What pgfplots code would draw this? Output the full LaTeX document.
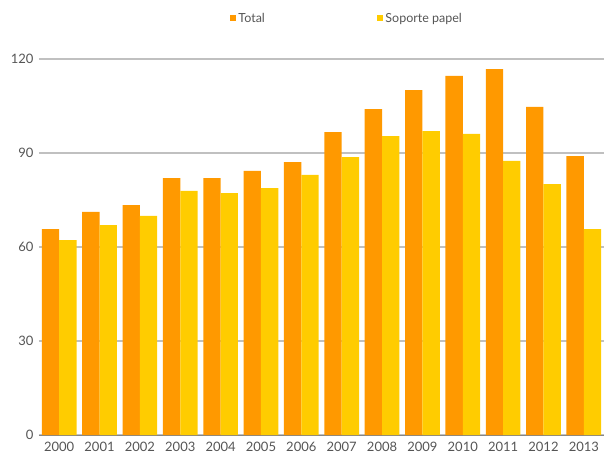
\documentclass[border=0pt]{standalone}
\usepackage{fontspec}
\setmainfont{Lato}
\usepackage{pgfplots}
\pgfplotsset{compat=1.18}
\definecolor{cTotal}{HTML}{FF9900}
\definecolor{cPapel}{HTML}{FFCC00}
\definecolor{cText}{HTML}{555555}
\definecolor{cGrid}{HTML}{C0C0C0}
\begin{document}
\begin{tikzpicture}
\useasboundingbox (-39pt,-16pt) rectangle (565pt,435pt);
\begin{axis}[
  at={(0,0)}, anchor=south west,
  scale only axis, width=565pt, height=376pt,
  ybar=0pt, bar width=0.43,
  xmin=-0.5, xmax=13.5, ymin=0, ymax=120,
  xtick={0,...,13},
  xticklabels={2000,2001,2002,2003,2004,2005,2006,2007,2008,2009,2010,2011,2012,2013},
  major x tick style={draw=none},
  extra x ticks={-0.5,0.5,...,13.5},
  extra x tick labels={},
  extra x tick style={tick style={draw=cGrid!70!black, line width=0.8pt}, major tick length=5pt, xtick align=outside, grid=none},
  ytick={0,30,60,90,120},
  ymajorgrids, grid style={cGrid, line width=1.2pt},
  major y tick style={draw=none},
  axis x line*=bottom,
  axis y line*=left,
  x axis line style={draw=cGrid!70!black, line width=0.8pt, -},
  y axis line style={draw=none},
  ticklabel style={font=\fontsize{13}{15}\selectfont, text=cText},
  yticklabel style={xshift=-2pt},
  /pgf/number format/assume math mode=true,
  xticklabel style={yshift=1pt},
  legend columns=2,
  legend style={at={(0.545,1)}, anchor=south, yshift=31pt, draw=none, fill=none,
    font=\fontsize{12.5}{14}\selectfont, text=cText,
    /tikz/every even column/.append style={column sep=110pt}},
  legend image code/.code={\fill[#1] (0pt,-3pt) rectangle (6.5pt,3.5pt);},
  clip=false,
]
\addplot[fill=cTotal, draw=none] coordinates {
(0,65.7) (1,71.2) (2,73.4) (3,82.0) (4,82.0) (5,84.3) (6,87.1) (7,96.7) (8,104.0) (9,110.1) (10,114.6) (11,116.8) (12,104.7) (13,89.0)};
\addplot[fill=cPapel, draw=none] coordinates {
(0,62.2) (1,67.0) (2,69.9) (3,77.9) (4,77.2) (5,78.8) (6,83.0) (7,88.7) (8,95.4) (9,97.0) (10,96.1) (11,87.5) (12,80.1) (13,65.7)};
\legend{Total, Soporte papel}
\end{axis}
\end{tikzpicture}
\end{document}
